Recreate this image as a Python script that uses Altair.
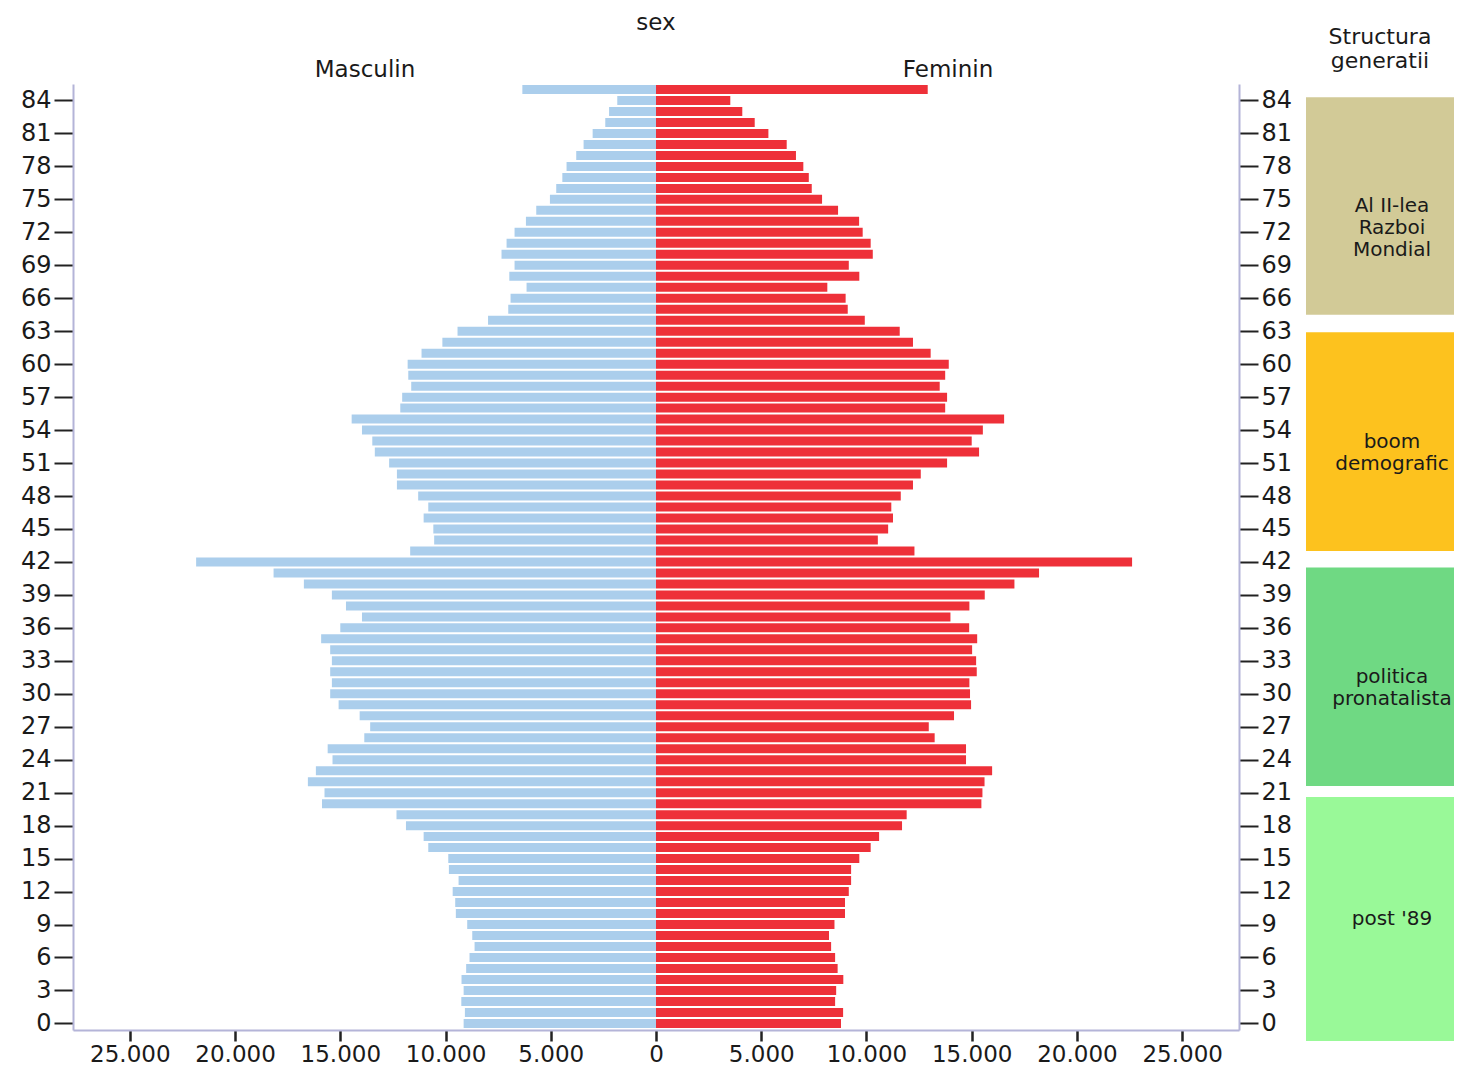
import altair as alt
import pandas as pd

# Population by single year of age (0..85), read from the pyramid
ages = list(range(0, 86))
male = [9140, 9080, 9250, 9140, 9240, 9020, 8860, 8620, 8730, 8970,
        9510, 9540, 9660, 9380, 9840, 9870, 10820, 11040, 11880, 12330,
        15870, 15750, 16540, 16160, 15370, 15600, 13860, 13580, 14080, 15080,
        15480, 15400, 15480, 15400, 15480, 15910, 15000, 13970, 14730, 15400,
        16730, 18170, 21850, 11680, 10540, 10580, 11040, 10820, 11300, 12310,
        12310, 12680, 13360, 13480, 13970, 14460, 12150, 12060, 11630, 11770,
        11800, 11140, 10150, 9430, 7980, 7020, 6910, 6150, 6970, 6720,
        7340, 7100, 6720, 6180, 5690, 5040, 4740, 4450, 4250, 3790,
        3440, 3010, 2410, 2230, 1840, 6350]
female = [8790, 8890, 8510, 8560, 8900, 8630, 8510, 8320, 8220, 8480,
          8980, 8980, 9160, 9270, 9270, 9660, 10200, 10600, 11690, 11910,
          15460, 15510, 15610, 15970, 14730, 14730, 13240, 12960, 14160, 14970,
          14920, 14890, 15240, 15210, 15020, 15260, 14880, 13990, 14890, 15620,
          17030, 18200, 22620, 12280, 10540, 11030, 11260, 11180, 11630, 12210,
          12580, 13830, 15350, 15000, 15530, 16540, 13740, 13830, 13480, 13740,
          13910, 13050, 12210, 11580, 9920, 9110, 9010, 8140, 9660, 9160,
          10300, 10200, 9820, 9650, 8650, 7890, 7400, 7260, 7000, 6650,
          6210, 5340, 4690, 4100, 3530, 12910]

sexes = ["Masculin", "Feminin"]
sex_colors = ["#ABCEEC", "#EE3039"]
x_ticks = [-25000, -20000, -15000, -10000, -5000, 0, 5000, 10000, 15000, 20000, 25000]
y_ticks = list(range(0, 85, 3))

# Generation structure blocks (age ranges)
gen_labels = ["Al II-lea\nRazboi\nMondial", "boom\ndemografic", "politica\npronatalista", "post '89"]
gen_start = [64.5, 43.0, 21.6, -1.6]
gen_end = [84.3, 62.9, 41.5, 20.6]
gen_colors = ["#D2CA97", "#FDC21E", "#6FD983", "#99F998"]

XMAX = 27700
Y_LO, Y_HI = -0.6, 85.5
SIDE_LO = -1.7
FONT = "DejaVu Sans"
TXT = "#1a1a1a"
FRAME = "#B4B4D8"

df = pd.DataFrame({
    "age": ages + ages,
    "sex": ["Masculin"] * len(ages) + ["Feminin"] * len(ages),
    "pop": male + female,
})

xscale = alt.Scale(domain=[-XMAX, XMAX], nice=False, zero=False)
yscale = alt.Scale(domain=[Y_LO, Y_HI], nice=False, zero=False, padding=0)

base = alt.Chart(df).transform_calculate(
    signed="datum.sex == 'Masculin' ? -datum.pop : datum.pop"
)

bars = base.mark_bar(orient="horizontal", size=9).encode(
    x=alt.X("signed:Q", scale=xscale, stack=None,
            axis=alt.Axis(orient="bottom", values=x_ticks, title=None,
                          labelExpr="replace(format(abs(datum.value), ','), ',', '.')",
                          tickSize=11, tickWidth=2.5, tickColor="#222",
                          domainColor=FRAME, domainWidth=2,
                          labelFontSize=23, labelPadding=2, labelColor=TXT,
                          labelFont=FONT, grid=False, labelOverlap=False)),
    x2=alt.datum(0),
    y=alt.Y("age:Q", scale=yscale,
            axis=alt.Axis(orient="left", values=y_ticks, title=None,
                          tickSize=19, tickWidth=2, tickColor="#222",
                          domainColor=FRAME, domainWidth=2,
                          labelFontSize=24, labelPadding=3, labelColor=TXT,
                          labelFont=FONT, grid=False)),
    color=alt.Color("sex:N", scale=alt.Scale(domain=sexes, range=sex_colors), legend=None),
)

aux = base.mark_point(opacity=0).encode(
    x=alt.X("signed:Q", scale=xscale,
            axis=alt.Axis(orient="top", values=[-XMAX / 2, XMAX / 2], title=None,
                          labelExpr="datum.value < 0 ? 'Masculin' : 'Feminin'",
                          ticks=False, domain=False, grid=False,
                          labelFontSize=23, labelPadding=3, labelColor=TXT,
                          labelFont=FONT)),
    y=alt.Y("age:Q", scale=yscale,
            axis=alt.Axis(orient="right", values=y_ticks, title=None,
                          tickSize=19, tickWidth=2, tickColor="#222",
                          domainColor=FRAME, domainWidth=2,
                          labelFontSize=24, labelPadding=3, labelColor=TXT,
                          labelFont=FONT, grid=False)),
)

main = alt.layer(bars, aux).resolve_axis(x="independent", y="independent").properties(
    width=1166, height=946,
    title=alt.TitleParams("sex", fontSize=23, font=FONT, fontWeight="normal",
                          color=TXT, anchor="middle", frame="group", offset=23),
)

side_h = 946 * (Y_HI - SIDE_LO) / (Y_HI - Y_LO)
gen_df = pd.DataFrame({"label": gen_labels, "start": gen_start, "end": gen_end, "color": gen_colors})
side_y = alt.Scale(domain=[SIDE_LO, Y_HI], nice=False, zero=False, padding=0)

side_base = alt.Chart(gen_df).transform_calculate(mid="(datum.start + datum.end) / 2")
rects = side_base.mark_rect(clip=True).encode(
    x=alt.value(0), x2=alt.value(175),
    y=alt.Y("start:Q", scale=side_y, axis=None), y2="end:Q",
    color=alt.Color("color:N", scale=None, legend=None),
)
labels = side_base.mark_text(clip=True, lineBreak="\n", fontSize=20, font=FONT,
                             color=TXT, lineHeight=22).encode(
    x=alt.value(86),
    y=alt.Y("mid:Q", scale=side_y, axis=None),
    text="label:N",
)
side = alt.layer(rects, labels).properties(
    width=148, height=side_h,
    title=alt.TitleParams(["Structura", "generatii"], fontSize=22, font=FONT,
                          fontWeight="normal", color=TXT, anchor="middle",
                          lineHeight=24, offset=11),
)

chart = alt.hconcat(main, side, spacing=14).resolve_scale(
    x="independent", y="independent"
).configure(
    padding={"left": 12, "top": 4, "right": 0, "bottom": 0}
).configure_view(stroke=None)

chart.save("out.html", embed_options={"renderer": "svg", "actions": False})
